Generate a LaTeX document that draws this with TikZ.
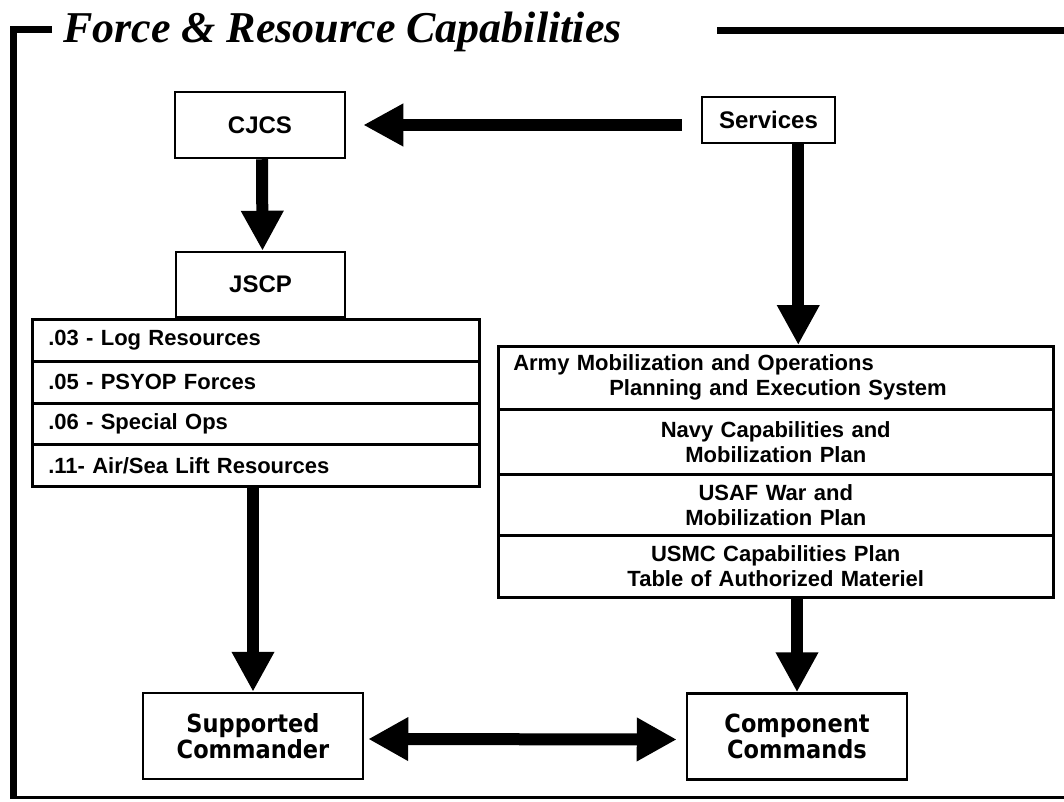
\documentclass[tikz,border=0pt]{standalone}
\usepackage{fontspec}
\setmainfont{Liberation Sans}
\newfontfamily\titlefont{Liberation Serif}
\newfontfamily\cmdfont[FakeStretch=0.9]{DejaVu Sans}
\usetikzlibrary{arrows.meta,calc}
\begin{document}
\begin{tikzpicture}[x=1pt,y=-1pt,
  box/.style={draw, line width=2.5pt, fill=white, inner sep=0pt,
    font=\bfseries\fontsize{24}{28}\selectfont},
  lrow/.style={draw, line width=2.5pt, fill=white, anchor=north west,
    text width=415pt, inner xsep=16pt, inner ysep=0pt, align=left,
    font=\bfseries\fontsize{22}{25}\selectfont},
  rrow/.style={draw, line width=2.5pt, fill=white, anchor=north west,
    text width=525pt, inner xsep=15pt, inner ysep=0pt, align=center,
    font=\bfseries\fontsize{22}{25}\selectfont},
  cmd/.style={draw, line width=2.5pt, fill=white, minimum width=220pt,
    minimum height=86pt, inner sep=0pt, align=center,
    font=\cmdfont\bfseries\fontsize{25}{26}\selectfont},
  bigarrow/.style={line width=12pt, -{Triangle[width=40pt,length=40pt]}},
  dblarrow/.style={line width=12pt,
    {Triangle[width=41pt,length=40pt]}-{Triangle[width=41pt,length=40pt]}},
  frameline/.style={line width=7pt}
]
\useasboundingbox (0,0) rectangle (1064,802);

% frame and title
\draw[frameline] (52,29.5) -- (13.5,29.5) -- (13.5,797);
\draw[line width=3pt] (10,797) -- (1064,797);
\draw[frameline] (717,30.5) -- (1064,30.5);
\node[anchor=base west, inner sep=0pt,
  font=\titlefont\bfseries\itshape\fontsize{44}{48}\selectfont]
  (title) at (63,43) {Force \& Resource Capabilities};

% top boxes
\node[box, minimum width=170pt, minimum height=66pt] (CJCS) at (260,125) {CJCS};
\node[box, minimum width=169pt, minimum height=65pt] (JSCP) at (260.5,284.5) {JSCP};
\node[box, minimum width=133pt, minimum height=46pt] (Serv) at (768.5,120) {Services};

% left list
\node[lrow, minimum height=42pt] (L1) at (31,318) {.03 - Log Resources};
\node[lrow, minimum height=42pt] (L2) at (31,360) {.05 - PSYOP Forces};
\node[lrow, minimum height=41pt] (L3) at (31,402) {.06 - Special Ops};
\node[lrow, minimum height=42pt] (L4) at (31,443) {.11- Air/Sea Lift Resources};

% right list
\node[rrow, minimum height=63pt, align=left] (R1) at (497,345)
  {Army Mobilization and Operations\\\hspace*{96pt}Planning and Execution System};
\node[rrow, minimum height=65pt] (R2) at (497,408) {Navy Capabilities and\\Mobilization Plan};
\node[rrow, minimum height=61pt] (R3) at (497,473) {USAF War and\\Mobilization Plan};
\node[rrow, minimum height=62pt] (R4) at (497,534) {USMC Capabilities Plan\\Table of Authorized Materiel};

% bottom boxes
\node[cmd] (Sup) at (253,736) {Supported\\Commander};
\node[cmd] (Comp) at (797,736.5) {Component\\Commands};

% connectors
\draw[bigarrow, shorten <=19pt, shorten >=17pt] (Serv.west |- CJCS.east) -- (CJCS.east);
\draw[bigarrow] ($(CJCS.south)+(2,0)$) -- ($(JSCP.north)+(2,0)$);
\path (Serv.south east) ++(-38,0) coordinate (s1);
\draw[bigarrow] (s1) -- (s1 |- R1.north);
\draw[bigarrow] (L4.south -| Sup.north) -- (Sup.north);
\draw[bigarrow] (R4.south -| Comp.north) -- (Comp.north);
\draw[dblarrow, shorten <=4pt, shorten >=9pt] ($(Sup.east)+(0,3)$) -- ($(Comp.west)+(0,3)$);
\end{tikzpicture}
\end{document}
